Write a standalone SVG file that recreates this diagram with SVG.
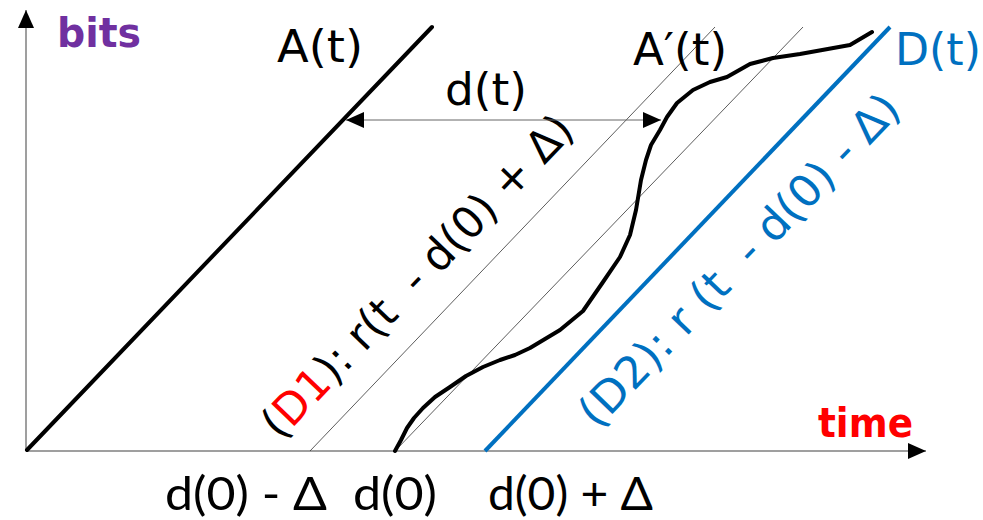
<svg xmlns="http://www.w3.org/2000/svg" width="983" height="520" viewBox="0 0 983 520">
<defs>
<style>
.axis{stroke:#7f7f7f;stroke-width:1.5;fill:none}
.thin{stroke:#333;stroke-width:0.8;fill:none}
.thick{stroke:#000;stroke-width:4;fill:none;stroke-linecap:round;stroke-linejoin:round}
.blue{stroke:#0070C0;stroke-width:4;fill:none}
.hand{font-family:"DejaVu Sans","Liberation Sans",sans-serif}
.calib{font-family:"Lato","Open Sans",sans-serif;font-size:46px;fill:#000}
.pre{white-space:pre}
</style>
<marker id="ah" viewBox="0 0 18 16" refX="18" refY="8" markerWidth="18" markerHeight="16" markerUnits="userSpaceOnUse" orient="auto-start-reverse">
<path d="M0,0 L18,8 L0,16 Z" fill="#000"/>
</marker>
</defs>
<rect width="983" height="520" fill="#fff"/>
<g id="axes">
<line class="axis" x1="26" y1="451" x2="26" y2="10" marker-end="url(#ah)"/>
<line class="axis" x1="26" y1="451" x2="926" y2="451" marker-end="url(#ah)"/>
<text class="hand" x="57" y="47" font-size="40" font-weight="bold" fill="#7030A0" textLength="84" lengthAdjust="spacingAndGlyphs">bits</text>
<text class="hand" x="818" y="437" font-size="40" font-weight="bold" fill="#FF0000" textLength="95" lengthAdjust="spacingAndGlyphs">time</text>
</g>
<g id="A">
<line class="thick" x1="27" y1="450" x2="432" y2="27" stroke-linecap="butt"/>
<text class="hand" x="277" y="62" font-size="44" fill="#000" textLength="86" lengthAdjust="spacingAndGlyphs">A(t)</text>
</g>
<g id="D1">
<line class="thin" x1="310" y1="451" x2="715" y2="27"/>
<line class="thin" x1="395" y1="451" x2="803" y2="27"/>
<text class="hand pre" transform="translate(280,441) rotate(-46.2)" font-size="44" fill="#000" textLength="428" lengthAdjust="spacingAndGlyphs">(<tspan fill="#FF0000">D1</tspan>): r(t  - d(0) + Δ)</text>
</g>
<g id="Aprime">
<path class="thick" d="M395,451 L401,440 L407,428 L414,418 L423,408 L435,397 L450,387 L466,376 L483,367 L500,360 L515,355 L530,348 L545,339 L560,330 L583,311 L603,282 L620,257 L630,235 L636,210 L641,180 L646,160 L651,145 L660,130 L667,117 L677,103 L693,90 L710,82 L727,77 L750,64 L773,58 L800,54 L850,45 L872,32"/>
<text class="hand" x="633" y="65" font-size="44" fill="#000" textLength="94" lengthAdjust="spacingAndGlyphs">A′(t)</text>
</g>
<g id="D">
<line class="blue" x1="485" y1="451" x2="890" y2="27"/>
<text class="hand" x="895" y="65" font-size="44" fill="#0070C0" textLength="86" lengthAdjust="spacingAndGlyphs">D(t)</text>
<text class="hand pre" transform="translate(597,430) rotate(-46.2)" font-size="44" fill="#0070C0" textLength="442" lengthAdjust="spacingAndGlyphs">(D2): r (t  - d(0) - Δ)</text>
</g>
<g id="connectors">
<line x1="346" y1="120" x2="661" y2="120" stroke="#666" stroke-width="1" marker-start="url(#ah)" marker-end="url(#ah)"/>
<text class="hand" x="445" y="105" font-size="44" fill="#000" textLength="82" lengthAdjust="spacingAndGlyphs">d(t)</text>
</g>
<g id="ticks">
<text class="calib pre" x="165" y="510" textLength="162" lengthAdjust="spacingAndGlyphs">d(0) - Δ</text>
<text class="calib" x="353" y="510" textLength="84" lengthAdjust="spacingAndGlyphs">d(0)</text>
<text class="calib pre" x="488" y="510" textLength="165" lengthAdjust="spacingAndGlyphs">d(0) + Δ</text>
</g>
</svg>
